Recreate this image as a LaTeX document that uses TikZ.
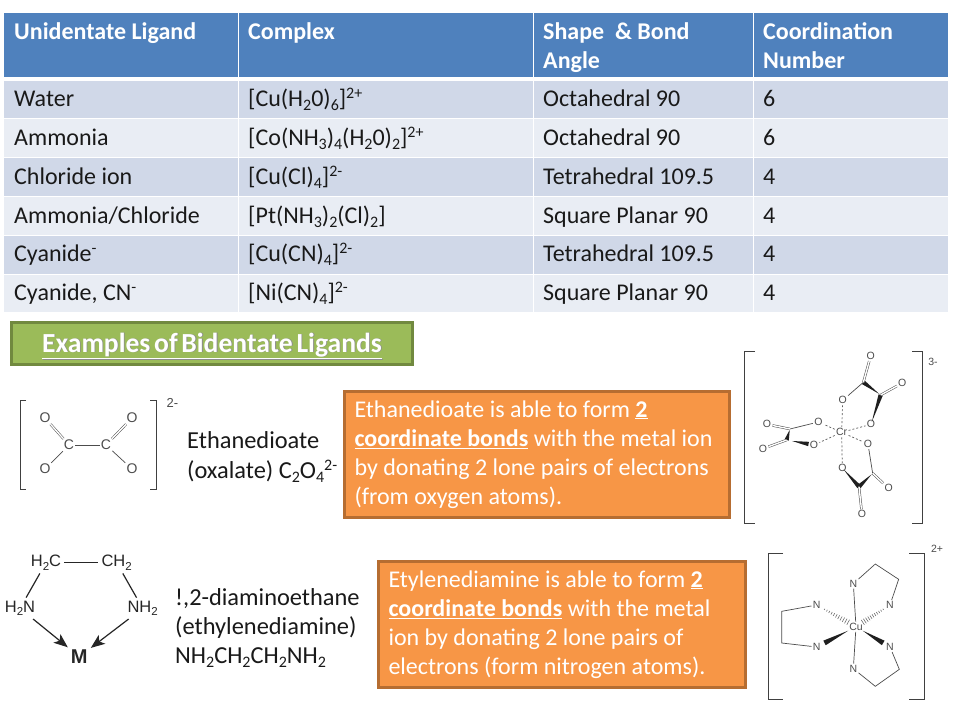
\documentclass[tikz,border=0pt]{standalone}
\usepackage{fontspec}
\setmainfont{Carlito}
\newfontfamily\hv{Liberation Sans}
\newfontfamily\tight[WordSpace=0.6]{Carlito}
\usetikzlibrary{calc,arrows.meta}
\definecolor{hdr}{HTML}{4F81BD}
\definecolor{rowa}{HTML}{D0D8E8}
\definecolor{rowb}{HTML}{E9EDF4}
\definecolor{grn}{HTML}{9BBB59}
\definecolor{grnb}{HTML}{71893F}
\definecolor{org}{HTML}{F79646}
\definecolor{orgb}{HTML}{B66D31}
\newcommand{\sbs}[1]{\raisebox{-0.17em}{\fontsize{16}{16}\selectfont #1}}
\newcommand{\sps}[1]{\raisebox{0.32em}{\fontsize{16}{16}\selectfont #1}}
\newcommand{\ensub}[1]{\raisebox{-0.22em}{\fontsize{11.5}{12}\selectfont #1}}
\newcommand{\cellfill}[5]{\fill[#5] (#1,#2) rectangle (#3,#4);}
\newcommand{\ul}[1]{\underline{#1}}
% solid wedge: narrow at #2, wide at #3
\newcommand{\wdg}[3][2.2pt]{\fill[black!88] ($(#2)!.08!(#3)$) -- ($(#3)!#1!90:(#2)$) -- ($(#3)!#1!-90:(#2)$) -- cycle;}
% solid wedge stopping short of the label at its wide end
\newcommand{\wdgs}[3][2.2pt]{\coordinate (wtip) at ($(#3)!.2!(#2)$);\fill[black!88] ($(#2)!.2!(#3)$) -- ($(wtip)!#1!90:(#2)$) -- ($(wtip)!#1!-90:(#2)$) -- cycle;}
% hashed wedge: narrow at #1, wide at #2
\newcommand{\hashw}[2]{\foreach \t in {.2,.26,...,.8}{\pgfmathsetmacro\dd{\t*3.6}\coordinate (hp) at ($(#1)!\t!(#2)$);\draw[black!60,line width=.55pt] ($(hp)!\dd pt!90:(#2)$) -- ($(hp)!\dd pt!-90:(#2)$);}}
\tikzset{
  celltxt/.style={anchor=base west,inner sep=0pt,font=\fontsize{24}{28}\selectfont,text=black!90},
  hdrtxt/.style={anchor=base west,inner sep=0pt,font=\fontsize{24}{28}\selectfont\bfseries,text=white},
  lbl/.style={anchor=base west,inner sep=0pt,font=\fontsize{24.4}{28}\selectfont,text=black!90},
  obox/.style={draw=orgb,line width=2.6pt,fill=org,text=white,align=flush left,inner sep=0pt,font=\fontsize{24}{29}\selectfont},
  atomn/.style={inner sep=1.2pt,font=\hv\fontsize{10.5}{11}\selectfont,text=black!70},
  atomo/.style={inner sep=1pt,font=\hv\fontsize{14}{15}\selectfont,text=black!70},
  bnd/.style={draw=black!70,line width=0.7pt},
  dbl/.style={draw=black!70,line width=0.5pt,double=white,double distance=1.4pt},
  dsh/.style={draw=black!65,line width=0.7pt,dash pattern=on 2pt off 2pt},
  brk/.style={draw=black!75,line width=0.9pt},
  en/.style={inner sep=3pt,font=\hv\fontsize{16.5}{18}\selectfont,text=black!85},
  enb/.style={line width=1.2pt,black!85},
  ena/.style={enb,-{Stealth[length=14pt,width=11pt,inset=3.5pt]}}
}
\begin{document}
\begin{tikzpicture}[x=1pt,y=-1pt]
\useasboundingbox (0,0) rectangle (960,720);
\fill[white] (0,0) rectangle (960,720);
% table backgrounds
\cellfill{4}{13}{238}{77}{hdr}
\cellfill{239}{13}{533}{77}{hdr}
\cellfill{534}{13}{753}{77}{hdr}
\cellfill{754}{13}{948}{77}{hdr}
\foreach \ya/\yb/\c in {81/118/rowa,119/157/rowb,158/196/rowa,197/235/rowb,236/274/rowa,275/312/rowb}{
  \foreach \xa/\xb in {4/238,239/533,534/753,754/948}{
    \fill[\c] (\xa,\ya) rectangle (\xb,\yb);
  }
}
% header
\node[hdrtxt] (h1) at (14,39) {Unidentate Ligand};
\node[hdrtxt] (h2) at (248,39) {Complex};
\node[hdrtxt] (h3) at (543,39) {Shape \ \&\ Bond};
\node[hdrtxt] (h3b) at (543,68) {Angle};
\node[hdrtxt] (h4) at (763,39) {Coordination};
\node[hdrtxt] (h4b) at (763,68) {Number};
% rows
\node[celltxt] (a1) at (14,106) {Water};
\node[celltxt] (a2) at (248,106) {[Cu(H\sbs{2}0)\sbs{6}]\sps{2+}};
\node[celltxt] (a3) at (543,106) {Octahedral 90};
\node[celltxt] (a4) at (763,106) {6};
\node[celltxt] (b1) at (14,145) {Ammonia};
\node[celltxt] (b2) at (248,145) {[Co(NH\sbs{3})\sbs{4}(H\sbs{2}0)\sbs{2}]\sps{2+}};
\node[celltxt] (b3) at (543,145) {Octahedral 90};
\node[celltxt] (b4) at (763,145) {6};
\node[celltxt] (c1) at (14,184) {Chloride ion};
\node[celltxt] (c2) at (248,184) {[Cu(Cl)\sbs{4}]\sps{2-}};
\node[celltxt] (c3) at (543,184) {Tetrahedral 109.5};
\node[celltxt] (c4) at (763,184) {4};
\node[celltxt] (d1) at (14,223) {Ammonia/Chloride};
\node[celltxt] (d2) at (248,223) {[Pt(NH\sbs{3})\sbs{2}(Cl)\sbs{2}]};
\node[celltxt] (d3) at (543,223) {Square Planar 90};
\node[celltxt] (d4) at (763,223) {4};
\node[celltxt] (e1) at (14,261) {Cyanide\sps{-}};
\node[celltxt] (e2) at (248,261) {[Cu(CN)\sbs{4}]\sps{2-}};
\node[celltxt] (e3) at (543,261) {Tetrahedral 109.5};
\node[celltxt] (e4) at (763,261) {4};
\node[celltxt] (f1) at (14,300) {Cyanide, CN\sps{-}};
\node[celltxt] (f2) at (248,300) {[Ni(CN)\sbs{4}]\sps{2-}};
\node[celltxt] (f3) at (543,300) {Square Planar 90};
\node[celltxt] (f4) at (763,300) {4};
% green banner
\node[draw=grnb,line width=2.6pt,fill=grn,minimum width=401pt,minimum height=42pt,inner sep=0pt] (banner) at (212,343.5) {};
\node[inner sep=0pt,anchor=base,font=\tight\fontsize{27.6}{30}\selectfont\bfseries,text=black!45] (bannershadow) at (212.8,352.8) {\underline{Examples of Bidentate Ligands}};
\node[inner sep=0pt,anchor=base,font=\tight\fontsize{27.6}{30}\selectfont\bfseries,text=white] (bannertxt) at (212,352) {\underline{Examples of Bidentate Ligands}};
% orange boxes
\node[obox,minimum width=385pt,minimum height=126pt,text width=365pt] (box1) at (537,454.5) {Ethanedioate is able to form \ul{\textbf{2}}\\\ul{\textbf{coordinate bonds}} with the metal ion\\by donating 2 lone pairs of electrons\\(from oxygen atoms).};
\node[obox,minimum width=367pt,minimum height=126pt,text width=347pt] (box2) at (562,624.5) {Etylenediamine is able to form \ul{\textbf{2}}\\\ul{\textbf{coordinate bonds}} with the metal\\ion by donating 2 lone pairs of\\electrons (form nitrogen atoms).};
% labels
\node[lbl] (l1) at (187,448) {Ethanedioate};
\node[lbl] (l2) at (187,478) {(oxalate) C\sbs{2}O\sbs{4}\sps{2-}};
\node[lbl] (l3) at (175,605) {!,2-diaminoethane};
\node[lbl] (l4) at (175,634) {(ethylenediamine)};
\node[lbl] (l5) at (175,663) {NH\sbs{2}CH\sbs{2}CH\sbs{2}NH\sbs{2}};
% oxalate
\draw[brk] (26,400) -- (20.7,400) -- (20.7,489) -- (26,489);
\draw[brk] (150,400) -- (156,400) -- (156,489) -- (150,489);
\node[atomn,font=\hv\fontsize{13}{14}\selectfont] (oxq) at (172.5,403) {2-};
\begin{scope}[every node/.style={atomo}]
\node (ox1) at (45,418) {O};
\node (ox2) at (45,469) {O};
\node (oc1) at (69,445) {C};
\node (oc2) at (106,445) {C};
\node (ox3) at (132,418) {O};
\node (ox4) at (132,469) {O};
\end{scope}
\draw[dbl] (ox1) -- (oc1);
\draw[bnd] (ox2) -- (oc1);
\draw[bnd] (oc1) -- (oc2);
\draw[dbl] (oc2) -- (ox3);
\draw[bnd] (oc2) -- (ox4);
% Cr complex
\draw[brk] (755,351) -- (744,351) -- (744,523) -- (755,523);
\draw[brk] (912,351) -- (922,351) -- (922,523) -- (912,523);
\node[atomn] (crq) at (933,362) {3-};
\begin{scope}[shift={(735,340)},x=0.3333pt,y=-0.3333pt]
\tikzset{every node/.style={atomn}}
\node (cr) at (320,277) {Cr};
\node (p1) at (323,181) {O};
\node (p2) at (408,253) {O};
\node (q1) at (250,246) {O};
\node (q2) at (237,315) {O};
\node (s1) at (399,312) {O};
\node (s2) at (322,384) {O};
\node (pe1) at (407,48) {O};
\node (pe2) at (502,129) {O};
\node (qe1) at (96,253) {O};
\node (qe2) at (84,326) {O};
\node (se1) at (461,445) {O};
\node (se2) at (381,523) {O};
\coordinate (pc1) at (385,127);
\coordinate (pc2) at (437,165);
\coordinate (qc1) at (165,267);
\coordinate (qc2) at (155,300);
\coordinate (sc1) at (413,400);
\coordinate (sc2) at (372,440);
\end{scope}
\foreach \o in {p1,p2,q1,q2,s1,s2}{\draw[dsh] (cr) -- (\o);}
\draw[bnd] (p1) -- (pc1);
\wdg{pc2}{pc1}
\wdg{p2}{pc2}
\draw[dbl] (pc1) -- (pe1);
\draw[dbl] (pc2) -- (pe2);
\draw[bnd] (q1) -- (qc1);
\wdg{qc1}{qc2}
\wdgs{qc2}{q2}
\draw[dbl] (qc1) -- (qe1);
\draw[dbl] (qc2) -- (qe2);
\draw[bnd] (s1) -- (sc1);
\wdg{sc1}{sc2}
\wdg{s2}{sc2}
\draw[dbl] (sc1) -- (se1);
\draw[dbl] (sc2) -- (se2);
% en
\begin{scope}[shift={(0,540)},x=0.3333pt,y=-0.3333pt]
\node[en] (ch1) at (138,68) {H\ensub{2}C};
\node[en] (ch2) at (350,68) {CH\ensub{2}};
\node[en] (n1) at (60,205) {H\ensub{2}N};
\node[en] (n2) at (428,205) {NH\ensub{2}};
\node[en,font=\hv\bfseries\fontsize{20}{22}\selectfont] (mm) at (238,350) {M};
\end{scope}
\draw[enb] (ch1) -- (ch2);
\draw[enb] (ch1) -- (n1);
\draw[enb] (ch2) -- (n2);
\draw[ena] (n1) -- (mm);
\draw[ena] (n2) -- (mm);
% Cu complex
\draw[brk] (783,553) -- (768,553) -- (768,699) -- (783,699);
\draw[brk] (909,553) -- (924,553) -- (924,699) -- (909,699);
\node[atomn] (cuq) at (937,549) {2+};
\begin{scope}[shift={(760,540)},x=0.3333pt,y=-0.3333pt]
\tikzset{every node/.style={atomn}}
\node (cu) at (288,260) {Cu};
\node (n11) at (280,131) {N};
\node (n12) at (390,195) {N};
\node (n21) at (170,195) {N};
\node (n22) at (170,321) {N};
\node (n31) at (390,321) {N};
\node (n32) at (280,386) {N};
\coordinate (k1) at (346,72);
\coordinate (k2) at (416,118);
\coordinate (k3) at (65,214);
\coordinate (k4) at (65,309);
\coordinate (k5) at (418,388);
\coordinate (k6) at (346,439);
\end{scope}
\draw[bnd] (n11) -- (k1) -- (k2) -- (n12);
\draw[bnd] (n21) -- (k3) -- (k4) -- (n22);
\draw[bnd] (n31) -- (k5) -- (k6) -- (n32);
\draw[bnd] (cu) -- (n11);
\draw[bnd] (cu) -- (n32);
\hashw{n21}{cu}
\hashw{n12}{cu}
\wdgs[2.6pt]{cu}{n22}
\wdgs[2.6pt]{cu}{n31}
\end{tikzpicture}
\end{document}
